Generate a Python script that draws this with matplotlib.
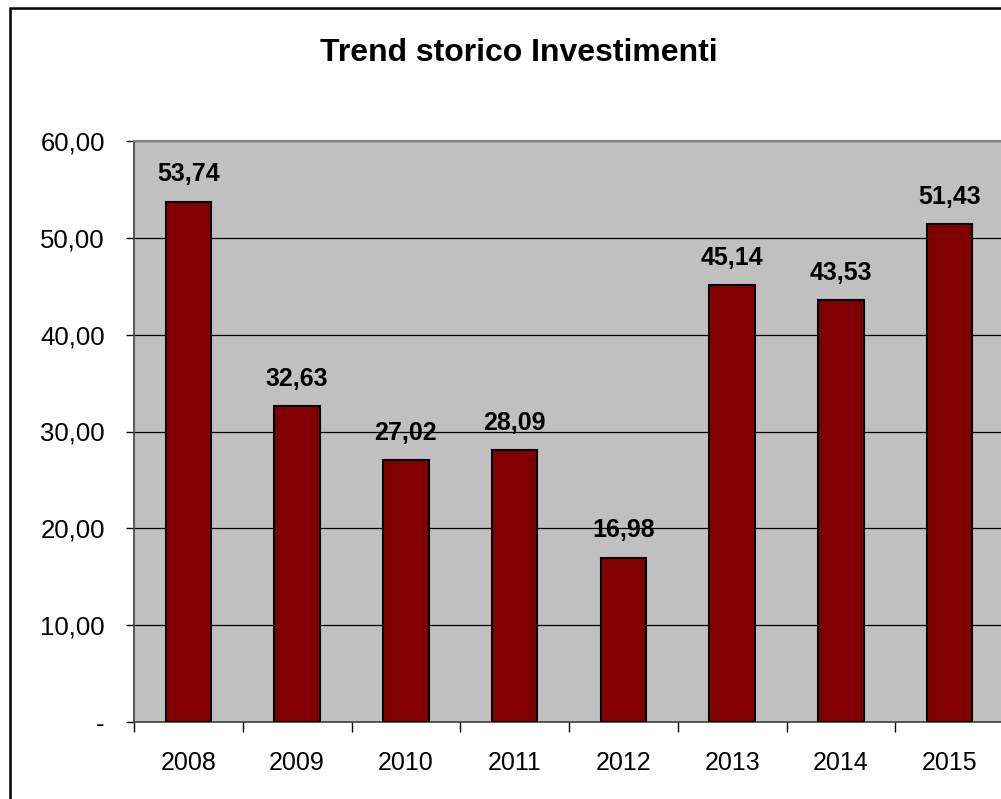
import matplotlib.pyplot as plt
from matplotlib.patches import Rectangle
from matplotlib.ticker import FixedLocator, FuncFormatter
import numpy as np

plt.rcParams['font.family'] = ['Liberation Sans', 'DejaVu Sans']

years = ['2008', '2009', '2010', '2011', '2012', '2013', '2014', '2015']
investimenti = [53.74, 32.63, 27.02, 28.09, 16.98, 45.14, 43.53, 51.43]
y_ticks = [0, 10, 20, 30, 40, 50, 60]

W, H = 1001, 799
fig = plt.figure(figsize=(W / 100, H / 100), dpi=100)

# outer chart border (right and bottom edges fall outside the image)
fig.patches.append(Rectangle((10 / W, -0.1), 1.2, (H - 8) / H + 0.1,
                             transform=fig.transFigure, fill=False,
                             edgecolor='black', linewidth=1.8))

ax = fig.add_axes([134 / W, (H - 722) / H, (1004 - 134) / W, (722 - 141) / H])
ax.set_facecolor('#c0c0c0')

x = np.arange(len(years))
bars = ax.bar(x, investimenti, width=0.42, color='#800000', edgecolor='black',
              linewidth=1.5, zorder=3)

def it_fmt(v):
    return f'{v:.2f}'.replace('.', ',')

for b, v in zip(bars, investimenti):
    ax.annotate(it_fmt(v), (b.get_x() + b.get_width() / 2, v),
                xytext=(0, 11), textcoords='offset points',
                ha='center', va='bottom', fontsize=18, fontweight='bold')

ax.set_xlim(-0.5, len(years) - 0.5)
ax.set_ylim(0, 60)

ax.set_yticks(y_ticks)
ax.yaxis.set_major_formatter(FuncFormatter(lambda v, p: '-' if v == 0 else it_fmt(v)))
ax.tick_params(axis='y', direction='out', length=6, width=1, pad=15,
               labelsize=18.5, colors='black')

ax.set_xticks(x)
ax.set_xticklabels(years)
ax.xaxis.set_minor_locator(FixedLocator(np.arange(len(years) + 1) - 0.5))
ax.tick_params(axis='x', which='major', length=0, pad=21, labelsize=18)
ax.tick_params(axis='x', which='minor', direction='out', length=7, width=1)

ax.grid(axis='y', color='black', linewidth=0.9, zorder=1)
ax.set_axisbelow(True)

for s in ['left', 'bottom']:
    ax.spines[s].set_color('#404040')
    ax.spines[s].set_linewidth(1.2)
ax.spines['top'].set_color('#808080')
ax.spines['top'].set_linewidth(1.5)
ax.spines['right'].set_visible(False)

fig.text(519 / W, (H - 53) / H, 'Trend storico Investimenti', ha='center',
         va='center', fontsize=23, fontweight='bold')

fig.savefig('out.png', dpi=100)
